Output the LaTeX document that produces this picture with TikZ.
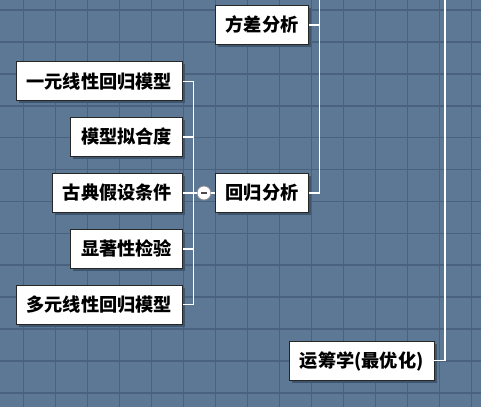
\documentclass[tikz,border=0pt]{standalone}
\usepackage{fontspec}
\newfontfamily\cjk{Noto Sans CJK SC}
\usetikzlibrary{shadows}
\definecolor{bgblue}{HTML}{5D7894}
\definecolor{gridblue}{HTML}{4A627E}
\definecolor{shadowblue}{HTML}{3E556E}
\tikzset{
  gridline/.style={gridblue, line width=1.6pt},
  topic/.style={draw=black!85, line width=0.8pt, fill=white,
    font=\cjk\bfseries\fontsize{18.2}{20}\selectfont,
    inner xsep=10.3pt, inner ysep=0pt, minimum height=39.3pt,
    text height=16pt, text depth=2.2pt,
    drop shadow={shadow xshift=2.6pt, shadow yshift=-2.6pt, opacity=1, fill=shadowblue}},
  conn/.style={white, line width=1.3pt},
  fold/.style={circle, draw=black!45, line width=0.8pt, fill=white,
    minimum size=14pt, inner sep=0pt}
}
\begin{document}
\begin{tikzpicture}[x=1pt, y=-1pt]
  \useasboundingbox (0,0) rectangle (481,407);
  % background and grid
  \fill[bgblue] (0,0) rectangle (481,407);
  \foreach \i in {0,...,14} \draw[gridline] ({23.3+32*\i},0) -- ++(0,407);
  \foreach \j in {0,...,12} \draw[gridline] (0,{10+31.9*\j}) -- ++(481,0);

  % topics
  \node[topic, anchor=west] (fc) at (215,25) {方差分析};
  \node[topic, anchor=west] (hg) at (215,193) {回归分析};
  \node[topic, anchor=east] (yc) at (434.3,360.7) {运筹学(最优化)};

  \node[topic, anchor=east] (c1) at (182.7,81.2) {一元线性回归模型};
  \node[topic, anchor=east] (c2) at (182.7,137) {模型拟合度};
  \node[topic, anchor=east] (c3) at (182.7,193) {古典假设条件};
  \node[topic, anchor=east] (c4) at (182.7,249) {显著性检验};
  \node[topic, anchor=east] (c5) at (182.7,304.7) {多元线性回归模型};

  % free ends of the trunks leaving the top edge
  \coordinate (top1) at (319.3,0);
  \coordinate (top2) at (445,0);

  % subtopic bracket
  \draw[conn] (c1.east) -- ++(10.6,0) coordinate (t1) -- (t1 |- c5.east) -- (c5.east);
  \foreach \c in {c2,c3,c4} \draw[conn] (\c.east) -- (\c.east -| t1);

  % collapse toggle
  \node[fold] (mn) at (204,193) {};
  \draw[conn] (t1 |- c3.east) -- (mn.west);
  \draw[conn] (mn.east) -- (hg.west);
  \draw[black!70, line width=1.2pt] ([xshift=-3pt]mn.center) -- ([xshift=3pt]mn.center);

  % trunks
  \draw[conn] (hg.east) -| (top1);
  \draw[conn] (fc.east) -- (fc.east -| top1);
  \draw[conn] (yc.east) -| (top2);
\end{tikzpicture}
\end{document}
